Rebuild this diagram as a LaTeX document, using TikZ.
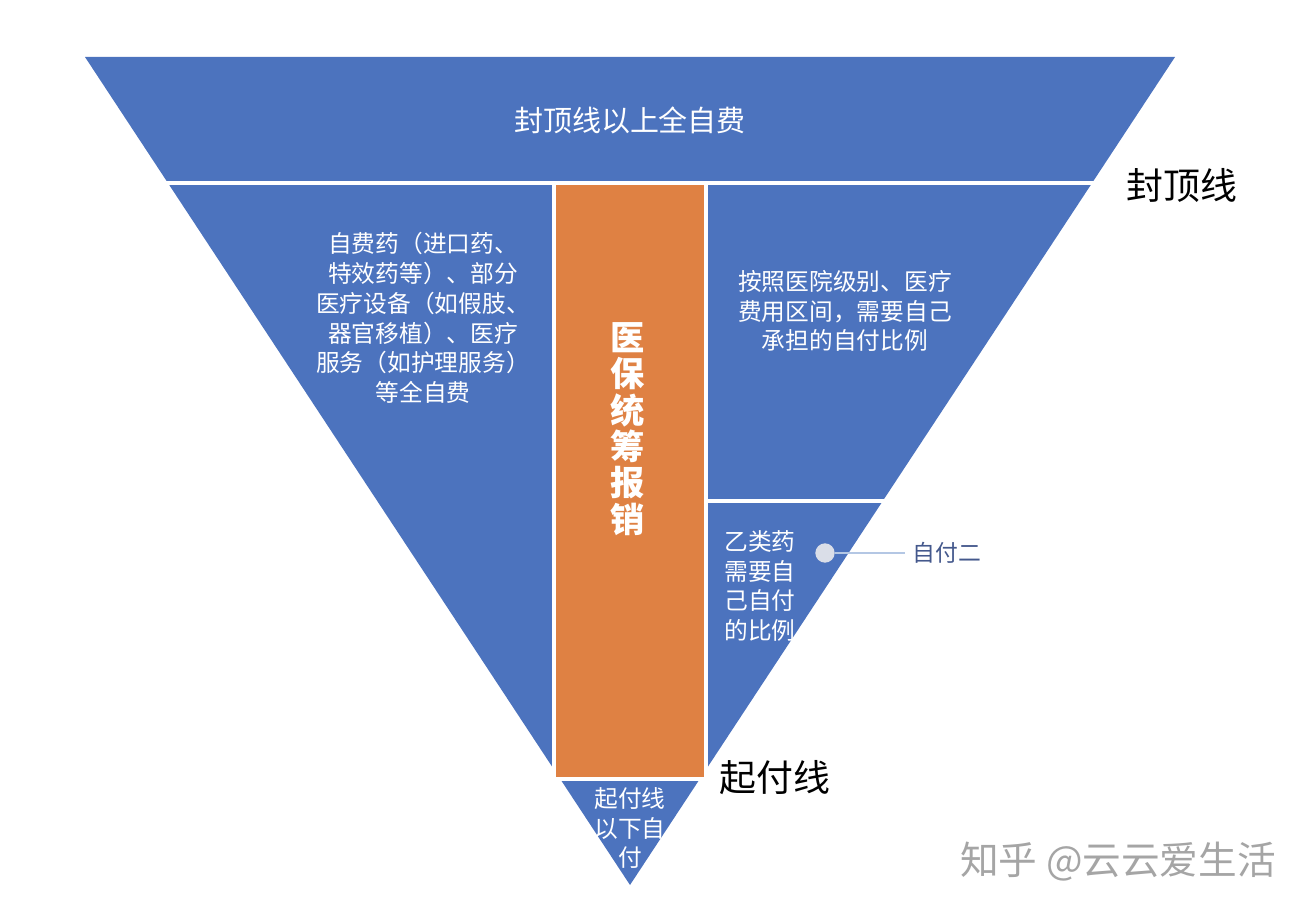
\documentclass[tikz,border=0pt]{standalone}
\usepackage{fontspec}
\usepackage{tikz}
\usetikzlibrary{positioning, calc}
\newfontfamily\cjk{Noto Sans CJK SC}
\definecolor{barblue}{RGB}{76, 115, 190}
\definecolor{poolorange}{RGB}{223, 129, 67}
\definecolor{calloutline}{RGB}{180, 199, 228}
\definecolor{calloutdot}{RGB}{218, 222, 232}
\definecolor{callouttext}{RGB}{68, 88, 140}
\definecolor{markgray}{RGB}{165, 165, 165}
\tikzset{
  intext/.style={text=white, align=center, inner sep=0pt,
                 font=\cjk\fontsize{13.5}{17}\selectfont},
  linelabel/.style={text=black, inner sep=0pt, font=\cjk\fontsize{21}{24}\selectfont},
  gapline/.style={white, line width=2.3pt}
}

\begin{document}
\begin{tikzpicture}[x=0.02cm, y=-0.02cm]
  \useasboundingbox (0,0) rectangle (1312,918);
  \fill[barblue] (85,57) -- (1175,57) -- (630,885) -- cycle;
  % separators
  \draw[gapline] (70,183) -- (1190,183);
  \draw[gapline] (706,501) -- (1000,501);
  \draw[gapline] (540,779) -- (720,779);
  \filldraw[poolorange, draw=white, line width=2.3pt] (554,183) rectangle (706,779);

  \node[intext, font=\cjk\fontsize{16.5}{20}\selectfont] (top) at (630,120) {封顶线以上全自费};
  \node[intext] (left) at (423,318) {自费药（进口药、\\特效药等）、部分\\医疗设备（如假肢、\\器官移植）、医疗\\服务（如护理服务）\\等全自费};
  \node[intext, font=\cjk\bfseries\fontsize{19.5}{20.7}\selectfont] (pool) at (628,429)
    {医\\保\\统\\筹\\报\\销};
  \node[intext] (ratio) at (845,311) {按照医院级别、医疗\\费用区间，需要自己\\承担的自付比例};
  \node[intext, align=left, anchor=west] (classb) at (724,586) {乙类药\\需要自\\己自付\\的比例};
  \node[intext] (below) at (630,828) {起付线\\以下自\\付};

  \node[linelabel] (cap) at (1182,185) {封顶线};
  \node[linelabel] (deduct) at (775,778) {起付线};

  \node[circle, fill=calloutdot, inner sep=0pt, minimum size=11pt] (dot) at (825,553) {};
  \node[text=callouttext, anchor=west, inner sep=0pt, font=\cjk\fontsize{13}{16}\selectfont]
    (self2) at (912,553) {自付二};
  \draw[calloutline, line width=1.2pt] (dot) -- ($(self2.west)+(-7,0)$);

  \node[text=markgray, inner sep=0pt, font=\cjk\fontsize{22}{24}\selectfont] (mark) at (1118,862)
    {知乎 @云云爱生活};
\end{tikzpicture}
\end{document}
